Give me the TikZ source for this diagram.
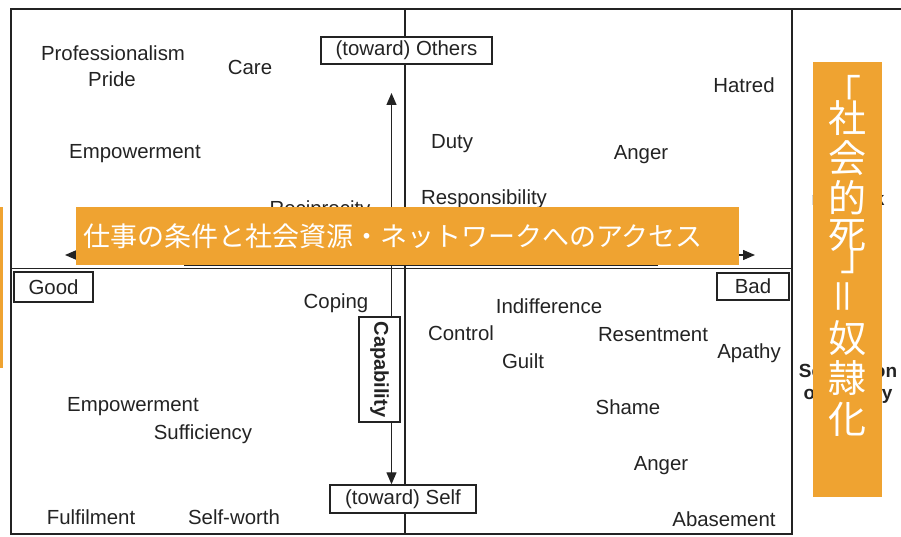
\documentclass[tikz,border=0pt]{standalone}
\usepackage{fontspec}
\setmainfont{Liberation Sans}
\newfontfamily\jpfont{Noto Sans CJK JP}
\usepackage{tikz}
\usetikzlibrary{arrows.meta,calc,positioning}
\definecolor{slideorange}{RGB}{239,163,49}
\definecolor{scanink}{RGB}{35,35,35}

\begin{document}
\begin{tikzpicture}[x=1pt,y=-1pt,>={Triangle[length=12pt,width=10pt]},
    word/.style={text=scanink,font=\fontsize{20.4}{24}\selectfont,inner sep=0pt,anchor=base},
    hiddenword/.style={text=scanink,font=\bfseries\fontsize{19}{22}\selectfont,align=center,inner sep=0pt},
    tag/.style={draw=scanink,line width=1.4pt,fill=white,text=scanink,
                font=\fontsize{20.4}{24}\selectfont,inner sep=0pt},
    frame/.style={draw=scanink,line width=1.6pt},
    axis/.style={draw=scanink,line width=1.3pt},
    slidebox/.style={fill=slideorange,inner sep=0pt,text=white},
    deathchar/.style={text=white,inner sep=0pt,font=\jpfont\fontsize{38}{38}\selectfont}]

    \useasboundingbox (0,0) rectangle (901,537);

    % scanned figure
	\draw[frame]  (11,9) rectangle (792,534);
	\draw[frame]  (792,9) -- (901,9);
	\draw[frame]  (405,9) -- (405,534);
	\draw[frame]  (11,268.5) -- (792,268.5);
	\draw[axis]   (185,224) rectangle (657,265.5);

    \coordinate (othersTip) at (391.5,93);
    \coordinate (goodTip) at (65,255);
    \coordinate (badTip) at (755,255);

    \node[tag,minimum width=171pt,minimum height=27pt] (others) at (406.5,50.5) {(toward) Others};
    \node[tag,minimum width=146pt,minimum height=28pt] (self) at (403,499) {(toward) Self};
    \node[tag,minimum width=79pt,minimum height=30pt] (good) at (53.5,287) {Good};
    \node[tag,minimum width=72pt,minimum height=27pt] (bad) at (753,286.5) {Bad};
    \node[tag,rotate=-90,font=\bfseries\fontsize{20}{24}\selectfont,
          minimum width=105pt,minimum height=41pt] (cap) at (379.5,369.5) {Capability};

	\draw[axis,->]  (cap.west -| othersTip) -- (othersTip);
	\draw[axis,->]  (cap.east -| othersTip) -- (othersTip |- self.north);
	\draw[axis,<->] (goodTip) -- (badTip);

    \node[word] (prof)   at (113,61)  {Professionalism};
    \node[word] (pride)  at (112,87)  {Pride};
    \node[word] (care)   at (250,75)  {Care};
    \node[word] (empowT) at (135,159) {Empowerment};
    \node[word] (recip)  at (320,215) {Reciprocity};
    \node[word] (duty)   at (452,149) {Duty};
    \node[word] (angerT) at (641,160) {Anger};
    \node[word] (hatred) at (744,93)  {Hatred};
    \node[word] (resp)   at (484,205) {Responsibility};

    \node[word] (coping) at (336,308) {Coping};
    \node[word] (empowB) at (133,411) {Empowerment};
    \node[word] (suff)   at (203,439) {Sufficiency};
    \node[word] (fulfil) at (91,524)  {Fulfilment};
    \node[word] (worth)  at (234,524) {Self-worth};

    \node[word] (indiff) at (549,313) {Indifference};
    \node[word] (contr)  at (461,340) {Control};
    \node[word] (resent) at (653,341) {Resentment};
    \node[word] (apathy) at (749,358) {Apathy};
    \node[word] (guilt)  at (523,368) {Guilt};
    \node[word] (shame)  at (628,414) {Shame};
    \node[word] (angerB) at (661,470) {Anger};
    \node[word] (abase)  at (724,526) {Abasement};

    \node[hiddenword] (lossnet) at (848,188) {Loss of\\network};
    \node[hiddenword] (separ)   at (848,384) {Separation\\of society};

    % slide overlays
    \fill[slideorange] (0,207) rectangle (2.5,368);

    \node[slidebox,minimum width=663pt,minimum height=58pt,text width=649pt,align=left,
          font=\jpfont\fontsize{27}{30}\selectfont] (access) at (407.5,236)
        {仕事の条件と社会資源・ネットワークへのアクセス};

    \node[slidebox,minimum width=69pt,minimum height=435pt] (deathbox) at (847.5,279.5) {};
    \node[deathchar] (dopen)  at (842,91)  {「};
    \foreach \ch/\yy [count=\i] in {社/118,会/158,的/198,死/236,奴/338,隷/378,化/419}
        \node[deathchar] (dchar\i) at (847.5,\yy) {\ch};
    \node[deathchar] (dclose) at (859,261) {」};
    \node[deathchar,rotate=90] (dequal) at (847.5,296) {＝};

\end{tikzpicture}
\end{document}
